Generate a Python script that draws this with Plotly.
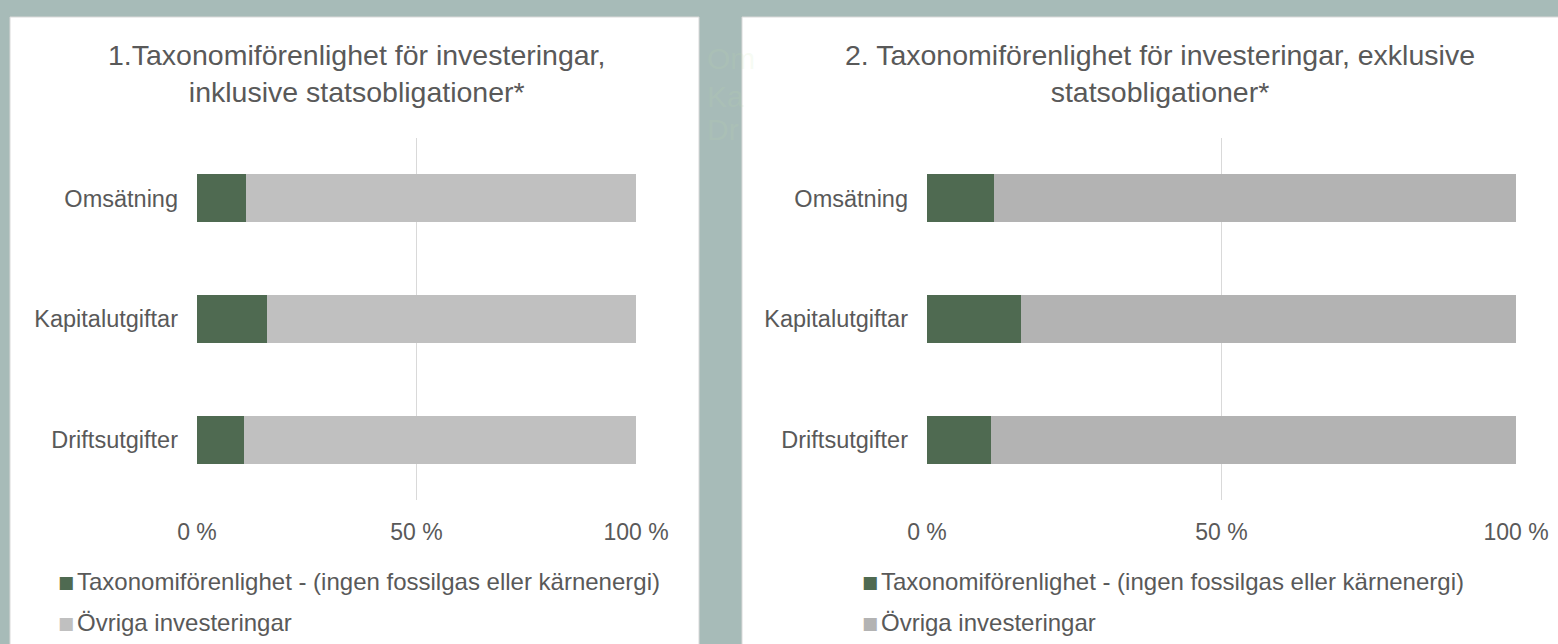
import plotly.graph_objects as go

categories = ["Omsätning", "Kapitalutgiftar", "Driftsutgifter"]
aligned_incl = [11.2, 15.9, 10.8]
aligned_excl = [11.4, 16.0, 10.9]
other_incl = [100 - v for v in aligned_incl]
other_excl = [100 - v for v in aligned_excl]
tick_vals = [0, 50, 100]
tick_text = ["0 %", "50 %", "100 %"]
series_names = ["Taxonomiförenlighet - (ingen fossilgas eller kärnenergi)", "Övriga investeringar"]
titles = ["1.Taxonomiförenlighet för investeringar,<br>inklusive statsobligationer*",
          "2. Taxonomiförenlighet för investeringar, exklusive<br>statsobligationer*"]

GREEN = "#4f6a51"
GREY_L = "#c0c0c0"
GREY_R = "#b3b3b3"
TXT = "#595959"
BG = "#a7bbb8"
FONT = "Liberation Sans, Arial, sans-serif"

W, H = 1558, 644

fig = go.Figure()
fig.add_trace(go.Bar(y=categories, x=aligned_incl, orientation="h", marker=dict(color=GREEN, line=dict(width=0)),
                     xaxis="x", yaxis="y", name=series_names[0], showlegend=False))
fig.add_trace(go.Bar(y=categories, x=other_incl, orientation="h", marker=dict(color=GREY_L, line=dict(width=0)),
                     xaxis="x", yaxis="y", name=series_names[1], showlegend=False))
fig.add_trace(go.Bar(y=categories, x=aligned_excl, orientation="h", marker=dict(color=GREEN, line=dict(width=0)),
                     xaxis="x2", yaxis="y2", name=series_names[0], showlegend=False))
fig.add_trace(go.Bar(y=categories, x=other_excl, orientation="h", marker=dict(color=GREY_R, line=dict(width=0)),
                     xaxis="x2", yaxis="y2", name=series_names[1], showlegend=False))

ydom = [1 - 500 / H, 1 - 138 / H]

def xax(domain, size):
    return dict(domain=domain, range=[0, 100], tickvals=tick_vals, ticktext=tick_text,
                showgrid=True, gridcolor="#d9d9d9", gridwidth=1, zeroline=False, showline=False,
                ticks="", tickfont=dict(family=FONT, size=size, color=TXT), ticklabelstandoff=16,
                automargin=False, fixedrange=True)

def yax(anchor, size):
    return dict(domain=ydom, anchor=anchor, categoryorder="array", categoryarray=categories,
                range=[2.5, -0.5], showgrid=False, zeroline=False, showline=False, ticks="",
                tickfont=dict(family=FONT, size=size, color=TXT), ticklabelstandoff=18,
                automargin=False, fixedrange=True)

fig.update_layout(
    width=W, height=H, margin=dict(l=0, r=0, t=0, b=0, pad=0), autosize=False,
    paper_bgcolor=BG, plot_bgcolor="rgba(0,0,0,0)",
    barmode="stack", bargap=0.6, showlegend=False,
    xaxis=dict(**xax([197 / W, 636 / W], 23), anchor="y"),
    yaxis=yax("x", 23.5),
    xaxis2=dict(**xax([927 / W, 1516 / W], 23), anchor="y2"),
    yaxis2=yax("x2", 23.5),
)

# white panels
fig.add_shape(type="rect", xref="paper", yref="paper", x0=10 / W, x1=699 / W, y0=-0.01, y1=1 - 17 / H,
              fillcolor="white", line=dict(color="#d9d9d9", width=1), layer="below")
fig.add_shape(type="rect", xref="paper", yref="paper", x0=742 / W, x1=1.01, y0=-0.01, y1=1 - 17 / H,
              fillcolor="white", line=dict(color="#d9d9d9", width=1), layer="below")

# faint clipped text of a hidden chart between panels
for t, yy in [("Om", 58), ("Ka", 96), ("Dr", 129)]:
    fig.add_annotation(text=t, xref="paper", yref="paper", x=705 / W, y=1 - yy / H, xanchor="left",
                       yanchor="middle", showarrow=False,
                       font=dict(family=FONT, size=30, color="rgba(195,225,170,0.14)"))

# titles
fig.add_annotation(text=titles[0], xref="paper", yref="paper", x=356 / W, y=1 - 74 / H, showarrow=False,
                   font=dict(family=FONT, size=28.5, color=TXT), align="center",
                   xanchor="center", yanchor="middle")
fig.add_annotation(text=titles[1], xref="paper", yref="paper", x=1160 / W, y=1 - 74 / H, showarrow=False,
                   font=dict(family=FONT, size=28.5, color=TXT), align="center",
                   xanchor="center", yanchor="middle")

# legends
def legend(x, y, color, name, size):
    fig.add_annotation(text="■", xref="paper", yref="paper", x=(x - 2) / W, y=1 - (y + 1) / H,
                       xanchor="left", yanchor="middle", showarrow=False,
                       font=dict(family="DejaVu Sans", size=17, color=color))
    fig.add_annotation(text=name, xref="paper", yref="paper", x=(x + 17) / W, y=1 - y / H,
                       xanchor="left", yanchor="middle", showarrow=False,
                       font=dict(family=FONT, size=size, color=TXT))

legend(58, 581, GREEN, series_names[0], 24)
legend(58, 622, GREY_L, series_names[1], 24)
legend(862, 581, GREEN, series_names[0], 24)
legend(862, 622, GREY_R, series_names[1], 24)

fig.write_html("out.html", config={"displayModeBar": False},
               post_script="document.body.style.margin='0';document.body.style.overflow='hidden';")
